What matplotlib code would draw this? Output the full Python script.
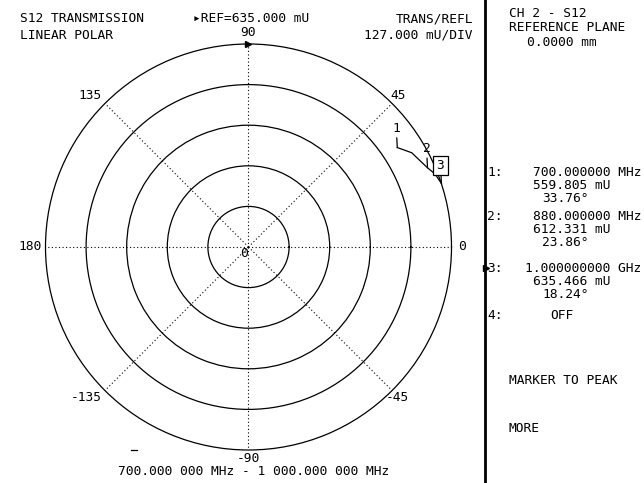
"""Linear polar display of S12 transmission with marker readouts."""
import numpy as np
import matplotlib
matplotlib.use('Agg')
import matplotlib.pyplot as plt

# trace samples (frequency, magnitude in milli-units, phase in degrees)
freq_mhz = [700.0, 790.0, 880.0, 940.0, 1000.0]
mag_mu = [559.805, 589.6, 612.331, 626.5, 635.466]
phase_deg = [33.76, 30.0, 23.86, 21.4, 18.24]

# markers: number -> trace index
marker_ids = [1, 2, 3]
marker_idx = [0, 2, 4]
active_marker = 3

ref_mu = 635.0
div_mu = 127.0
n_div = 5
angle_ticks = [0, 45, 90, 135, 180, -135, -90, -45]

FONT = ['DejaVu Sans Mono', 'DejaVu Sans']
FS = 9.3
W, H = 644, 483

fig = plt.figure(figsize=(W / 100, H / 100), dpi=100)
fig.patch.set_facecolor('white')

# polar graticule: centre (248.5, 247) px, radius 203 px
cx, cy, rad = 248.5, 247.0, 203.0
pax = fig.add_axes([(cx - rad) / W, (H - cy - rad) / H, 2 * rad / W, 2 * rad / H],
                   projection='polar')
pax.set_theta_zero_location('E')
pax.set_xticks(np.deg2rad(np.mod(angle_ticks, 360)))
pax.set_xticklabels([])
pax.set_xlim(0, 2 * np.pi)
pax.set_ylim(0, ref_mu)
pax.set_yticks([div_mu * k for k in range(1, n_div)])
pax.set_yticklabels([])
pax.tick_params(length=0)
pax.yaxis.grid(True, color='black', linestyle='-', linewidth=0.9)
pax.xaxis.grid(True, color='black', linestyle=(0, (1, 2.2)), linewidth=0.8)
pax.spines['polar'].set(color='black', linewidth=0.9)

# angle labels around the outer ring (pixel offsets from the ring)
label_off = {0: (7, 0, 'left'), 45: (6, 8, 'center'), 90: (0, 12, 'center'),
             135: (-15, 8, 'center'), 180: (-4, 0, 'right'),
             -135: (-19, -7, 'center'), -90: (0, -8, 'center'),
             -45: (5, -7, 'center')}
for a in angle_ticks:
    dx, dy, ha = label_off[a]
    pax.annotate(str(a), xy=(np.deg2rad(a), ref_mu), xytext=(dx, dy),
                 textcoords='offset pixels', ha=ha, va='center',
                 family=FONT, fontsize=FS, annotation_clip=False)
pax.annotate('0', xy=(0, 0), xytext=(-4, -10), textcoords='offset pixels',
             ha='center', va='baseline', family=FONT, fontsize=FS)

# reference position indicator
pax.plot([np.pi / 2], [ref_mu], marker='>', color='black', markersize=4.5,
         clip_on=False)

# measured trace
theta = np.deg2rad(phase_deg)
pax.plot(theta, mag_mu, color='black', linewidth=0.9, clip_on=False)

for mid, i in zip(marker_ids, marker_idx):
    box = None
    off = (-1, 19)
    if mid == active_marker:
        box = dict(boxstyle='square,pad=0.25', fc='white', ec='black', lw=0.9)
        off = (-1, 18)
    pax.annotate(str(mid), xy=(theta[i], mag_mu[i]), xytext=off,
                 textcoords='offset pixels', ha='center', va='center',
                 family=FONT, fontsize=FS, bbox=box,
                 arrowprops=dict(arrowstyle='-', color='black', lw=0.9,
                                 shrinkA=0, shrinkB=0))

# screen overlay in pixel coordinates for annotations
ax = fig.add_axes([0, 0, 1, 1], facecolor='none')
ax.set_xlim(0, W)
ax.set_ylim(H, 0)
ax.axis('off')


def put(x, y, s, ha='left'):
    ax.text(x, y, s, ha=ha, va='baseline', family=FONT, fontsize=FS)


put(20, 22, 'S12 TRANSMISSION')
put(20, 39, 'LINEAR POLAR')
put(193, 22, f'\u25b8REF={ref_mu:.3f} mU')
put(473, 22, 'TRANS/REFL', ha='right')
put(473, 39, f'{div_mu:.3f} mU/DIV', ha='right')
put(254, 475, f'{freq_mhz[0]:.0f}.000 000 MHz - 1 000.000 000 MHz', ha='center')
ax.plot([131, 137], [450, 450], color='black', linewidth=0.9)

# softkey / marker panel
ax.plot([484.7, 484.7], [0, H], color='black', linewidth=2.0)
put(509, 17, 'CH 2 - S12')
put(509, 31, 'REFERENCE PLANE')
put(527, 46, '0.0000 mm')

row_y = [176, 220, 272]
for mid, i, y in zip(marker_ids, marker_idx, row_y):
    f = freq_mhz[i]
    put(487, y, f'{mid}:')
    if f >= 1000:
        put(525, y, f'{f / 1000:.9f} GHz')
    else:
        put(533, y, f'{f:.6f} MHz')
    put(533, y + 13, f'{mag_mu[i]:.3f} mU')
    put(542, y + 26, f'{phase_deg[i]:.2f}\u00b0')
    if mid == active_marker:
        ax.plot([486], [y - 4], marker='>', color='black', markersize=5)
put(487, 319, '4:')
put(550, 319, 'OFF')
put(509, 384, 'MARKER TO PEAK')
put(509, 432, 'MORE')

fig.savefig('out.png', dpi=100)
